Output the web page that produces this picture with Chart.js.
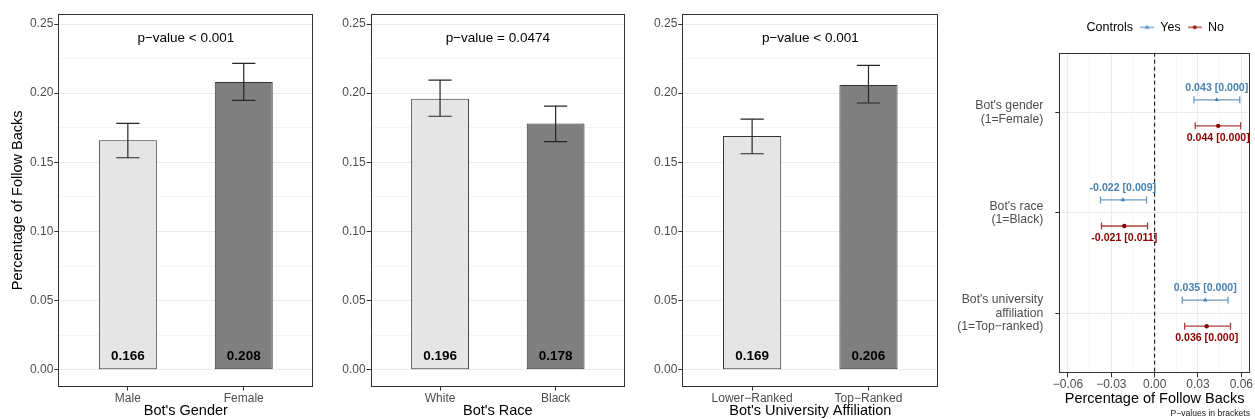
<!DOCTYPE html>
<html><head><meta charset="utf-8">
<script src="https://cdn.jsdelivr.net/npm/chart.js@4.4.1/dist/chart.umd.min.js"></script>
<style>
html,body{margin:0;padding:0;background:#fff;}
body{width:1255px;height:419px;position:relative;overflow:hidden;}
.p{position:absolute;top:0;height:419px;}
</style></head><body>
<div class="p" style="left:0;width:320px"><canvas id="c1"></canvas></div>
<div class="p" style="left:320px;width:312px"><canvas id="c2"></canvas></div>
<div class="p" style="left:632px;width:313px"><canvas id="c3"></canvas></div>
<div class="p" style="left:945px;width:310px"><canvas id="c4"></canvas></div>
<script>
// ---------- data ----------
const genderCats = ['Male', 'Female'];
const genderVals = [0.166, 0.208];
const genderLo = [0.1533, 0.1948];
const genderHi = [0.1782, 0.2216];

const raceCats = ['White', 'Black'];
const raceVals = [0.196, 0.178];
const raceLo = [0.1833, 0.1649];
const raceHi = [0.2095, 0.1907];

const univCats = ['Lower\u2212Ranked', 'Top\u2212Ranked'];
const univVals = [0.169, 0.206];
const univLo = [0.1562, 0.1929];
const univHi = [0.1813, 0.2201];

const pTexts = ['p\u2212value < 0.001', 'p\u2212value = 0.0474', 'p\u2212value < 0.001'];
const xTitles = ["Bot's Gender", "Bot's Race", "Bot's University Affiliation"];
const barTicks = [0, 0.05, 0.10, 0.15, 0.20, 0.25];

const effectCats = [["Bot's gender", "(1=Female)"], ["Bot's race", "(1=Black)"], ["Bot's university", "affiliation", "(1=Top\u2212ranked)"]];
const yesEst = [0.043, -0.022, 0.035];
const yesLo = [0.0272, -0.0375, 0.0191];
const yesHi = [0.0589, -0.0056, 0.0508];
const yesP = ['0.000', '0.009', '0.000'];
const noEst = [0.044, -0.021, 0.036];
const noLo = [0.0281, -0.0368, 0.0208];
const noHi = [0.0595, -0.0049, 0.0525];
const noP = ['0.000', '0.011', '0.000'];
const effectTicks = [-0.06, -0.03, 0, 0.03, 0.06];
const legendLabels = ['Controls', 'Yes', 'No'];

// ---------- styling ----------
const FAMILY = '"Liberation Sans", Arial, Helvetica, sans-serif';
Chart.defaults.font.family = FAMILY;
Chart.defaults.color = '#4d4d4d';
const BAR_FILLS = ['#e5e5e5', '#7f7f7f'];
const BLUE = '#4682b4', RED = '#8b0000';

function withMinors(majors) {
  const out = [];
  majors.forEach((v, i) => {
    out.push(v);
    if (i < majors.length - 1) out.push((v + majors[i + 1]) / 2);
  });
  return out;
}
function isMajorOf(majors) {
  return v => majors.some(t => Math.abs(t - v) < 1e-9);
}

function drawErr(chart, layer) {
  const ctx = chart.ctx, xs = chart.scales.x, ys = chart.scales.y;
  chart.data.datasets.forEach(ds => {
    if (!ds.errLo || ds.errLayer !== layer) return;
    ctx.save();
    ctx.strokeStyle = ds.errColor; ctx.lineWidth = ds.errWidth;
    ctx.beginPath();
    ds.data.forEach((pt, i) => {
      if (ds.errAxis === 'y') {
        const xc = xs.getPixelForValue(pt.x), x0 = xs.getPixelForValue(pt.x - ds.errCap), x1 = xs.getPixelForValue(pt.x + ds.errCap);
        const ylo = ys.getPixelForValue(ds.errLo[i]), yhi = ys.getPixelForValue(ds.errHi[i]);
        ctx.moveTo(xc, ylo); ctx.lineTo(xc, yhi);
        ctx.moveTo(x0, ylo); ctx.lineTo(x1, ylo);
        ctx.moveTo(x0, yhi); ctx.lineTo(x1, yhi);
      } else {
        const yc = ys.getPixelForValue(pt.y), y0 = ys.getPixelForValue(pt.y - ds.errCap), y1 = ys.getPixelForValue(pt.y + ds.errCap);
        const xlo = xs.getPixelForValue(ds.errLo[i]), xhi = xs.getPixelForValue(ds.errHi[i]);
        ctx.moveTo(xlo, yc); ctx.lineTo(xhi, yc);
        ctx.moveTo(xlo, y0); ctx.lineTo(xlo, y1);
        ctx.moveTo(xhi, y0); ctx.lineTo(xhi, y1);
      }
    });
    ctx.stroke();
    ctx.restore();
  });
}
const errorBars = {
  id: 'errorBars',
  beforeDatasetsDraw(chart) { drawErr(chart, 'before'); },
  afterDatasetsDraw(chart) { drawErr(chart, 'after'); }
};
const panelBorder = {
  id: 'panelBorder',
  afterDatasetsDraw(chart) {
    const {ctx, chartArea: a} = chart;
    ctx.save();
    ctx.strokeStyle = '#333333'; ctx.lineWidth = 1;
    const l = Math.round(a.left) + 0.5, t = Math.round(a.top) + 0.5, r = Math.round(a.right) - 0.5, b = Math.round(a.bottom) - 0.5;
    ctx.strokeRect(l, t, r - l, b - t);
    ctx.restore();
  }
};

function barChart(id, cats, vals, lo, hi, ptext, xTitle, yWidth, rightPad, showYTitle) {
  const allTicks = withMinors(barTicks);
  const isMajor = isMajorOf(barTicks);
  const textPlugin = {
    id: 'barText',
    afterDatasetsDraw(chart) {
      const {ctx, scales: {x, y}} = chart;
      ctx.save();
      ctx.textAlign = 'center'; ctx.textBaseline = 'middle'; ctx.fillStyle = '#000';
      ctx.font = 'bold 13.5px ' + FAMILY;
      vals.forEach((v, i) => ctx.fillText(v.toFixed(3), x.getPixelForValue(i + 1), y.getPixelForValue(0.01)));
      ctx.font = '13.5px ' + FAMILY;
      ctx.fillText(ptext, x.getPixelForValue((1 + cats.length) / 2), y.getPixelForValue(0.24));
      ctx.restore();
    }
  };
  return new Chart(document.getElementById(id), {
    type: 'bar',
    data: {
      datasets: [{
        data: vals.map((v, i) => ({x: i + 1, y: v})),
        backgroundColor: BAR_FILLS,
        borderColor: '#333333',
        borderWidth: 1,
        borderSkipped: false,
        barPercentage: 0.5,
        categoryPercentage: 1,
        errLo: lo, errHi: hi, errAxis: 'y', errCap: 0.1, errColor: '#262626', errWidth: 1.2, errLayer: 'after'
      }]
    },
    options: {
      responsive: true, maintainAspectRatio: false, animation: false, events: [],
      layout: {padding: {top: 14, right: rightPad, left: 0, bottom: 0}},
      plugins: {legend: {display: false}, tooltip: {enabled: false}},
      scales: {
        x: {
          type: 'linear', min: 0.4, max: 2.6, offset: false,
          afterBuildTicks: s => { s.ticks = cats.map((c, i) => ({value: i + 1})); },
          afterFit: s => { s.height = 32.3; },
          ticks: {callback: v => cats[Math.round(v) - 1], font: {size: 12}, color: '#4d4d4d', padding: 0.5, autoSkip: false, maxRotation: 0},
          grid: {offset: false, drawOnChartArea: false, tickLength: 4, tickColor: '#333333', tickWidth: 1},
          border: {display: false},
          title: {display: true, text: xTitle, color: '#000', font: {size: 14.5, lineHeight: 1}, padding: {top: 0, bottom: 0.3}}
        },
        y: {
          min: -0.01225, max: 0.25725,
          afterBuildTicks: s => { s.ticks = allTicks.map(v => ({value: v})); },
          afterFit: s => { s.width = yWidth; },
          ticks: {callback: v => isMajor(v) ? v.toFixed(2) : '', font: {size: 12}, color: '#4d4d4d', padding: 1, autoSkip: false},
          grid: {
            color: '#ebebeb',
            lineWidth: c => isMajor(c.tick.value) ? 1 : 0.5,
            tickColor: c => isMajor(c.tick.value) ? '#333333' : 'rgba(0,0,0,0)',
            tickWidth: 1, tickLength: 4
          },
          border: {display: false},
          title: {display: showYTitle, text: 'Percentage of Follow Backs', color: '#000', font: {size: 14.5, lineHeight: 1}, padding: {top: 11, bottom: 0}}
        }
      }
    },
    plugins: [errorBars, textPlugin, panelBorder]
  });
}

barChart('c1', genderCats, genderVals, genderLo, genderHi, pTexts[0], xTitles[0], 58.3, 6.7, true);
barChart('c2', raceCats, raceVals, raceLo, raceHi, pTexts[1], xTitles[1], 50.7, 7, false);
barChart('c3', univCats, univVals, univLo, univHi, pTexts[2], xTitles[2], 50.3, 6.7, false);

// ---------- coefficient panel ----------
function markerCanvas(color, shape) {
  const c = document.createElement('canvas');
  c.width = 14; c.height = 8;
  const g = c.getContext('2d');
  g.strokeStyle = color; g.lineWidth = 1.2;
  g.beginPath(); g.moveTo(0, 4); g.lineTo(14, 4); g.stroke();
  g.fillStyle = color;
  g.beginPath();
  if (shape === 'triangle') { g.moveTo(7, 1.5); g.lineTo(9.3, 5.5); g.lineTo(4.7, 5.5); g.closePath(); }
  else { g.arc(7, 4, 1.9, 0, Math.PI * 2); }
  g.fill();
  return c;
}
const blankMarker = document.createElement('canvas');
blankMarker.width = 1; blankMarker.height = 1;
const yesMarker = markerCanvas('rgba(70,130,180,0.85)', 'triangle');
const noMarker = markerCanvas('rgba(139,0,0,0.85)', 'circle');

const DODGE = 0.13;
const fmtEst = v => (v < 0 ? '-' : '') + Math.abs(v).toFixed(3);
const fmtTick = v => Math.abs(v) < 1e-9 ? '0.00' : (v < 0 ? '\u2212' : '') + Math.abs(v).toFixed(2);
const effAll = withMinors(effectTicks);
const effMajor = isMajorOf(effectTicks);

const effText = {
  id: 'effText',
  afterDatasetsDraw(chart) {
    const {ctx, scales: {x, y}} = chart;
    ctx.save();
    ctx.textAlign = 'center'; ctx.textBaseline = 'middle';
    ctx.font = 'bold 10.6px ' + FAMILY;
    chart.data.datasets.forEach(ds => {
      if (!ds.pvals) return;
      ctx.fillStyle = ds.textColor;
      ds.data.forEach((pt, i) => {
        ctx.fillText(fmtEst(pt.x) + ' [' + ds.pvals[i] + ']', x.getPixelForValue(pt.x), y.getPixelForValue(pt.y) + ds.textDy);
      });
    });
    ctx.restore();
  }
};

new Chart(document.getElementById('c4'), {
  type: 'scatter',
  data: {
    datasets: [
      {
        label: legendLabels[1],
        data: yesEst.map((v, i) => ({x: v, y: i + 1 - DODGE})),
        pointStyle: 'triangle', pointRadius: 2.6, backgroundColor: BLUE, borderColor: BLUE, borderWidth: 0,
        errLo: yesLo, errHi: yesHi, errAxis: 'x', errCap: 0.035, errColor: 'rgba(70,130,180,0.8)', errWidth: 1.3, errLayer: 'before',
        pvals: yesP, textColor: BLUE, textDy: -12, order: 1
      },
      {
        label: legendLabels[2],
        data: noEst.map((v, i) => ({x: v, y: i + 1 + DODGE})),
        pointStyle: 'circle', pointRadius: 2.2, backgroundColor: RED, borderColor: RED, borderWidth: 0,
        errLo: noLo, errHi: noHi, errAxis: 'x', errCap: 0.035, errColor: 'rgba(139,0,0,0.75)', errWidth: 1.3, errLayer: 'before',
        pvals: noP, textColor: RED, textDy: 12, order: 2
      },
      {
        type: 'line', label: 'zero',
        data: [{x: 0, y: 0.4}, {x: 0, y: 3.6}],
        borderColor: '#000', borderWidth: 1, borderDash: [4, 3], pointRadius: 0, showLine: true, order: 10
      }
    ]
  },
  options: {
    responsive: true, maintainAspectRatio: false, animation: false, events: [],
    layout: {padding: {top: 14.05, right: 5, left: 0, bottom: 0}},
    plugins: {
      tooltip: {enabled: false},
      legend: {
        display: true, position: 'top', fullSize: false, align: 'start',
        labels: {
          usePointStyle: true, pointStyleWidth: 14, padding: 7, color: '#000', font: {size: 12.5},
          generateLabels: () => [
            {text: legendLabels[0], pointStyle: blankMarker, fillStyle: 'rgba(0,0,0,0)', strokeStyle: 'rgba(0,0,0,0)', lineWidth: 0},
            {text: legendLabels[1], pointStyle: yesMarker, fillStyle: BLUE, strokeStyle: BLUE, lineWidth: 0, datasetIndex: 0},
            {text: legendLabels[2], pointStyle: noMarker, fillStyle: RED, strokeStyle: RED, lineWidth: 0, datasetIndex: 1}
          ]
        }
      },
      title: {display: true, text: '', position: 'top', weight: 500, font: {size: 9.15, lineHeight: 1}, padding: 0},
      subtitle: {display: true, text: 'P\u2212values in brackets', position: 'bottom', align: 'end', color: '#1a1a1a', font: {size: 8.6, lineHeight: 1.2}, padding: 0}
    },
    scales: {
      x: {
        type: 'linear', min: -0.066, max: 0.066,
        afterBuildTicks: s => { s.ticks = effAll.map(v => ({value: v})); },
        afterFit: s => { s.height = 35.4; },
        ticks: {callback: v => effMajor(v) ? fmtTick(v) : '', font: {size: 12}, color: '#4d4d4d', padding: 0, autoSkip: false, maxRotation: 0},
        grid: {
          color: '#ebebeb',
          lineWidth: c => effMajor(c.tick.value) ? 1 : 0.5,
          tickColor: c => effMajor(c.tick.value) ? '#333333' : 'rgba(0,0,0,0)',
          tickWidth: 1, tickLength: 4
        },
        border: {display: false},
        title: {display: true, text: 'Percentage of Follow Backs', color: '#000', font: {size: 14.5, lineHeight: 1}, padding: {top: 0, bottom: 2.9}}
      },
      y: {
        type: 'linear', min: 0.4, max: 3.6, reverse: true,
        afterBuildTicks: s => { s.ticks = effectCats.map((c, i) => ({value: i + 1})); },
        afterFit: s => { s.width = 114.3; },
        ticks: {callback: v => effectCats[Math.round(v) - 1], font: {size: 12.2, lineHeight: 1.1}, color: '#4d4d4d', padding: 12, autoSkip: false},
        grid: {color: '#ebebeb', lineWidth: 1, tickColor: '#333333', tickWidth: 1, tickLength: 4},
        border: {display: false}
      }
    }
  },
  plugins: [errorBars, effText, panelBorder]
});
</script>
</body></html>
